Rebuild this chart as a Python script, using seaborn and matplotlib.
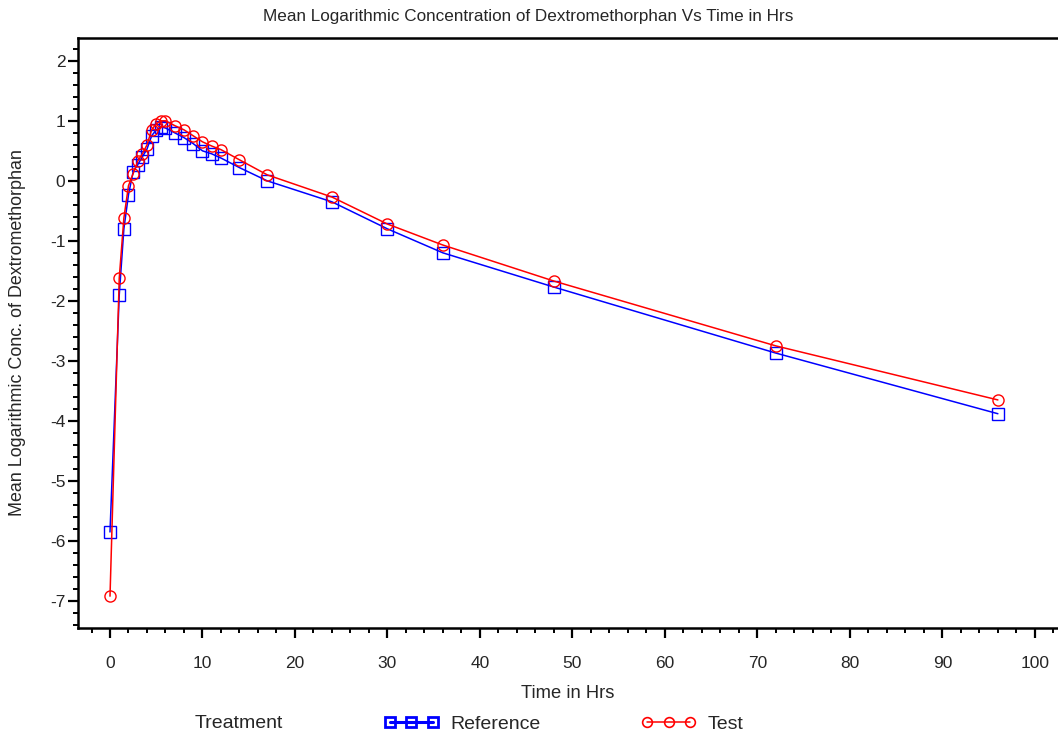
import matplotlib
matplotlib.use("Agg")
import matplotlib.pyplot as plt
import seaborn as sns
import pandas as pd
from matplotlib.lines import Line2D
from matplotlib.ticker import MultipleLocator

time_hrs = [0, 1, 1.5, 2, 2.5, 3, 3.5, 4, 4.5, 5, 5.5, 6, 7, 8, 9, 10, 11, 12, 14, 17, 24, 30, 36, 48, 72, 96]
reference_vals = [-5.85, -1.9, -0.8, -0.23, 0.15, 0.27, 0.4, 0.53, 0.75, 0.85, 0.9, 0.88, 0.8, 0.72, 0.62, 0.5, 0.45, 0.38, 0.22, 0.0, -0.35, -0.8, -1.2, -1.77, -2.87, -3.88]
test_vals = [-6.92, -1.62, -0.62, -0.08, 0.12, 0.33, 0.45, 0.6, 0.85, 0.95, 1.0, 1.0, 0.92, 0.85, 0.75, 0.65, 0.58, 0.52, 0.35, 0.1, -0.27, -0.72, -1.07, -1.67, -2.75, -3.65]
treatments = ["Reference", "Test"]
colors = {"Reference": "#0000ff", "Test": "#ff0000"}
markers = {"Reference": "s", "Test": "o"}

df = pd.DataFrame({
    "Time": time_hrs * 2,
    "Conc": reference_vals + test_vals,
    "Treatment": ["Reference"] * len(time_hrs) + ["Test"] * len(time_hrs),
})

sns.set_style("white")
plt.rcParams["font.family"] = ["Liberation Sans", "DejaVu Sans"]
plt.rcParams["axes.unicode_minus"] = False

fig = plt.figure(figsize=(10.58, 7.36), dpi=100)
ax = fig.add_axes([78 / 1058, 1 - 628 / 736, 1 - 78 / 1058, (628 - 38) / 736])

sns.lineplot(data=df, x="Time", y="Conc", hue="Treatment", style="Treatment",
             palette=colors, markers=markers, dashes=False, ax=ax,
             linewidth=1.1, markersize=8, legend=False)
for line in ax.lines:
    c = line.get_color()
    line.set_markerfacecolor("none")
    line.set_markeredgecolor(c)
    line.set_markeredgewidth(1.0)

ax.set_xlim(-3.46, 102.5)
ax.set_ylim(-7.45, 2.38)
ax.xaxis.set_major_locator(MultipleLocator(10))
ax.xaxis.set_minor_locator(MultipleLocator(2))
ax.yaxis.set_major_locator(MultipleLocator(1))
ax.yaxis.set_minor_locator(MultipleLocator(0.2))
ax.tick_params(axis="both", which="major", direction="out", length=7, width=1.6,
               labelsize=12.5, color="black", bottom=True, left=True)
ax.tick_params(axis="x", which="major", pad=13)
ax.tick_params(axis="y", which="major", pad=2)
ax.tick_params(axis="both", which="minor", direction="out", length=3.5, width=1.4,
               color="black", bottom=True, left=True)
for side in ["left", "bottom", "top"]:
    ax.spines[side].set_visible(True)
    ax.spines[side].set_color("black")
    ax.spines[side].set_linewidth(1.8)
ax.spines["right"].set_visible(False)
ax.grid(False)

ax.set_xlabel("Time in Hrs", fontsize=13.2, labelpad=10)
ax.set_ylabel("Mean Logarithmic Conc. of Dextromethorphan", fontsize=12.9, labelpad=17)
fig.text(528 / 1058, 1 - 16 / 736, "Mean Logarithmic Concentration of Dextromethorphan Vs Time in Hrs",
         ha="center", va="center", fontsize=12.3)

fig.text(195 / 1058, 1 - 724 / 736, "Treatment", ha="left", va="center", fontsize=14)
handles = [
    Line2D([], [], color=colors["Reference"], marker="s", mfc="none", mec=colors["Reference"],
           lw=2.2, mew=2.0, markersize=7),
    Line2D([], [], color=colors["Test"], marker="o", mfc="none", mec=colors["Test"],
           lw=1.1, mew=1.2, markersize=7),
]
fig.legend(handles, treatments, loc="center left", bbox_to_anchor=(384 / 1058, 1 - 724 / 736),
           ncol=2, frameon=False, numpoints=3, handlelength=2.8, handletextpad=0.6,
           columnspacing=5.2, borderpad=0, borderaxespad=0, fontsize=14)

fig.savefig("out.png", dpi=100)
